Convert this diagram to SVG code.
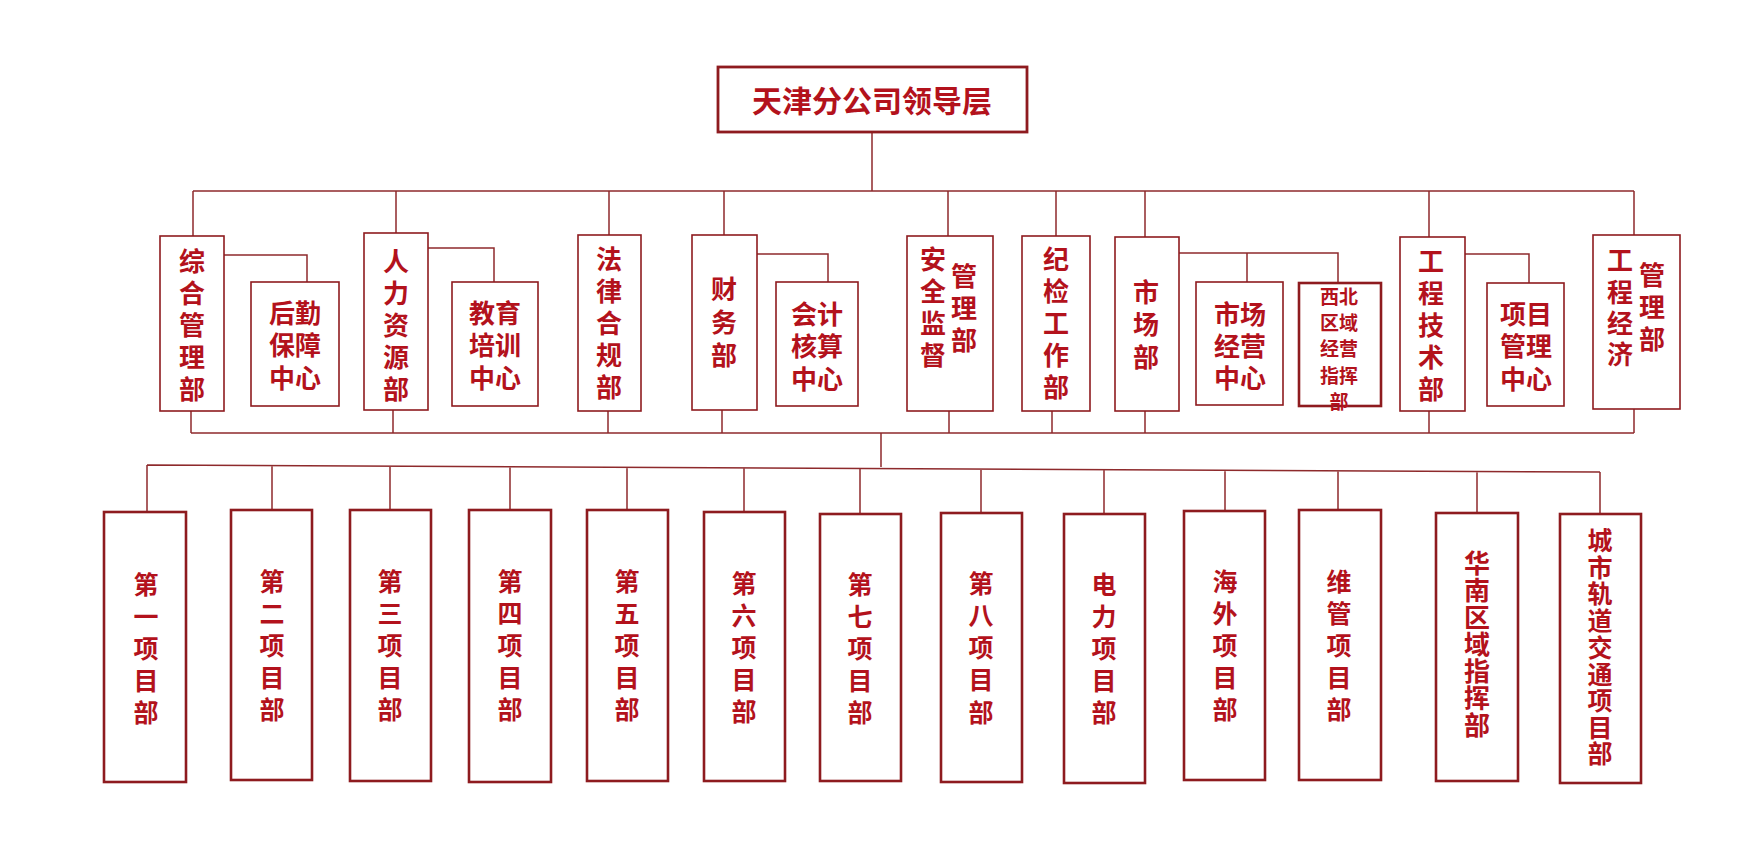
<svg xmlns="http://www.w3.org/2000/svg" width="1760" height="865" viewBox="0 0 1760 865">
<style>
.bg{fill:#ffffff}
.b2{fill:#ffffff;stroke:#8e1b1f;stroke-width:1.6}
.b3{fill:#ffffff;stroke:#8e1b1f;stroke-width:2.6}
.bt{fill:#ffffff;stroke:#8e1b1f;stroke-width:2.8}
.ln{fill:none;stroke:#8e2a2c;stroke-width:1.5}
text{font-family:"Noto Sans CJK SC","Noto Sans",sans-serif;font-weight:700;fill:#b3121c;text-anchor:middle;dominant-baseline:central}
.f26{font-size:26px}
.f25{font-size:25px}
.f19{font-size:19px}
.f30{font-size:30px}
</style>
<rect class="bg" x="0" y="0" width="1760" height="865"/>

<g id="connectors">
  <path class="ln" d="M872,132V191M193,191H1634M193,191V236M396,191V233M609,191V235M724,191V235M948,191V236M1056,191V236M1145,191V237M1429,191V237M1634,191V235"/>
  <path class="ln" d="M224,255H307V282M428,248H494V282M757,254H828V282M1179,253H1338V283M1247,253V282M1465,254H1529V283"/>
  <path class="ln" d="M191,433H1634M191,411V433M393,410V433M608,411V433M722,410V433M949,411V433M1052,411V433M1145,411V433M1429,411V433M1634,409V433M881,433V467"/>
  <path class="ln" d="M147,465L1600,472M147,465V512M272,465.6V510M390,466.2V510M510,466.7V510M627,467.3V510M744,467.9V512M860,468.4V514M981,469V513M1104,469.6V514M1225,470.2V511M1338,470.7V510M1477,471.4V513M1600,472V514"/>
</g>

<g id="leader">
  <rect class="bt" x="718" y="67" width="309" height="65"/>
  <text class="f30" x="872" y="99">天津分公司领导层</text>
</g>

<g id="n-zonghe">
  <rect class="b2" x="160" y="236" width="64" height="175"/>
  <text class="f26"><tspan x="192" y="259">综</tspan><tspan x="192" y="291">合</tspan><tspan x="192" y="323">管</tspan><tspan x="192" y="355">理</tspan><tspan x="192" y="387">部</tspan></text>
</g>
<g id="n-houqin">
  <rect class="b2" x="251" y="282" width="88" height="124"/>
  <text class="f26"><tspan x="295" y="311">后勤</tspan><tspan x="295" y="343">保障</tspan><tspan x="295" y="376">中心</tspan></text>
</g>
<g id="n-renli">
  <rect class="b2" x="364" y="233" width="64" height="177"/>
  <text class="f26"><tspan x="396" y="259">人</tspan><tspan x="396" y="291">力</tspan><tspan x="396" y="323">资</tspan><tspan x="396" y="355">源</tspan><tspan x="396" y="387">部</tspan></text>
</g>
<g id="n-jiaoyu">
  <rect class="b2" x="452" y="282" width="86" height="124"/>
  <text class="f26"><tspan x="495" y="311">教育</tspan><tspan x="495" y="343">培训</tspan><tspan x="495" y="376">中心</tspan></text>
</g>
<g id="n-falv">
  <rect class="b2" x="578" y="235" width="63" height="176"/>
  <text class="f26"><tspan x="609" y="257">法</tspan><tspan x="609" y="289">律</tspan><tspan x="609" y="321">合</tspan><tspan x="609" y="353">规</tspan><tspan x="609" y="385">部</tspan></text>
</g>
<g id="n-caiwu">
  <rect class="b2" x="692" y="235" width="65" height="175"/>
  <text class="f26"><tspan x="724" y="287">财</tspan><tspan x="724" y="320">务</tspan><tspan x="724" y="353">部</tspan></text>
</g>
<g id="n-kuaiji">
  <rect class="b2" x="776" y="282" width="82" height="124"/>
  <text class="f26"><tspan x="817" y="312">会计</tspan><tspan x="817" y="344">核算</tspan><tspan x="817" y="377">中心</tspan></text>
</g>
<g id="n-anquan">
  <rect class="b2" x="907" y="236" width="86" height="175"/>
  <text class="f26"><tspan x="933" y="257">安</tspan><tspan x="933" y="289">全</tspan><tspan x="933" y="321">监</tspan><tspan x="933" y="353">督</tspan></text>
  <text class="f26"><tspan x="964" y="274">管</tspan><tspan x="964" y="306">理</tspan><tspan x="964" y="338">部</tspan></text>
</g>
<g id="n-jijian">
  <rect class="b2" x="1022" y="236" width="68" height="175"/>
  <text class="f26"><tspan x="1056" y="257">纪</tspan><tspan x="1056" y="289">检</tspan><tspan x="1056" y="321">工</tspan><tspan x="1056" y="353">作</tspan><tspan x="1056" y="385">部</tspan></text>
</g>
<g id="n-shichang">
  <rect class="b2" x="1115" y="237" width="64" height="174"/>
  <text class="f26"><tspan x="1146" y="290">市</tspan><tspan x="1146" y="322">场</tspan><tspan x="1146" y="355">部</tspan></text>
</g>
<g id="n-scjy">
  <rect class="b2" x="1196" y="282" width="87" height="123"/>
  <text class="f26"><tspan x="1240" y="312">市场</tspan><tspan x="1240" y="344">经营</tspan><tspan x="1240" y="376">中心</tspan></text>
</g>
<g id="n-xibei">
  <rect class="b3" x="1299" y="283" width="82" height="123"/>
  <text class="f19"><tspan x="1339" y="295">西北</tspan><tspan x="1339" y="321">区域</tspan><tspan x="1339" y="347">经营</tspan><tspan x="1339" y="374">指挥</tspan><tspan x="1339" y="400">部</tspan></text>
</g>
<g id="n-gcjs">
  <rect class="b2" x="1400" y="237" width="65" height="174"/>
  <text class="f26"><tspan x="1431" y="259">工</tspan><tspan x="1431" y="291">程</tspan><tspan x="1431" y="323">技</tspan><tspan x="1431" y="355">术</tspan><tspan x="1431" y="387">部</tspan></text>
</g>
<g id="n-xmgl">
  <rect class="b2" x="1487" y="283" width="77" height="123"/>
  <text class="f26"><tspan x="1526" y="312">项目</tspan><tspan x="1526" y="344">管理</tspan><tspan x="1526" y="377">中心</tspan></text>
</g>
<g id="n-gcjj">
  <rect class="b2" x="1593" y="235" width="87" height="174"/>
  <text class="f26"><tspan x="1620" y="258">工</tspan><tspan x="1620" y="290">程</tspan><tspan x="1620" y="321">经</tspan><tspan x="1620" y="352">济</tspan></text>
  <text class="f26"><tspan x="1652" y="273">管</tspan><tspan x="1652" y="305">理</tspan><tspan x="1652" y="337">部</tspan></text>
</g>

<g id="p1">
  <rect class="b3" x="104" y="512" width="82" height="270"/>
  <text class="f25"><tspan x="146" y="583">第</tspan><tspan x="146" y="615">一</tspan><tspan x="146" y="647">项</tspan><tspan x="146" y="679">目</tspan><tspan x="146" y="711">部</tspan></text>
</g>
<g id="p2">
  <rect class="b3" x="231" y="510" width="81" height="270"/>
  <text class="f25"><tspan x="272" y="580">第</tspan><tspan x="272" y="612">二</tspan><tspan x="272" y="644">项</tspan><tspan x="272" y="676">目</tspan><tspan x="272" y="708">部</tspan></text>
</g>
<g id="p3">
  <rect class="b3" x="350" y="510" width="81" height="271"/>
  <text class="f25"><tspan x="390" y="580">第</tspan><tspan x="390" y="612">三</tspan><tspan x="390" y="644">项</tspan><tspan x="390" y="676">目</tspan><tspan x="390" y="708">部</tspan></text>
</g>
<g id="p4">
  <rect class="b3" x="469" y="510" width="82" height="272"/>
  <text class="f25"><tspan x="510" y="580">第</tspan><tspan x="510" y="612">四</tspan><tspan x="510" y="644">项</tspan><tspan x="510" y="676">目</tspan><tspan x="510" y="708">部</tspan></text>
</g>
<g id="p5">
  <rect class="b3" x="587" y="510" width="81" height="271"/>
  <text class="f25"><tspan x="627" y="580">第</tspan><tspan x="627" y="612">五</tspan><tspan x="627" y="644">项</tspan><tspan x="627" y="676">目</tspan><tspan x="627" y="708">部</tspan></text>
</g>
<g id="p6">
  <rect class="b3" x="704" y="512" width="81" height="269"/>
  <text class="f25"><tspan x="744" y="582">第</tspan><tspan x="744" y="614">六</tspan><tspan x="744" y="646">项</tspan><tspan x="744" y="678">目</tspan><tspan x="744" y="710">部</tspan></text>
</g>
<g id="p7">
  <rect class="b3" x="820" y="514" width="81" height="267"/>
  <text class="f25"><tspan x="860" y="583">第</tspan><tspan x="860" y="615">七</tspan><tspan x="860" y="647">项</tspan><tspan x="860" y="679">目</tspan><tspan x="860" y="711">部</tspan></text>
</g>
<g id="p8">
  <rect class="b3" x="941" y="513" width="81" height="269"/>
  <text class="f25"><tspan x="981" y="582">第</tspan><tspan x="981" y="614">八</tspan><tspan x="981" y="646">项</tspan><tspan x="981" y="678">目</tspan><tspan x="981" y="711">部</tspan></text>
</g>
<g id="p-dianli">
  <rect class="b3" x="1064" y="514" width="81" height="269"/>
  <text class="f25"><tspan x="1104" y="583">电</tspan><tspan x="1104" y="615">力</tspan><tspan x="1104" y="647">项</tspan><tspan x="1104" y="679">目</tspan><tspan x="1104" y="711">部</tspan></text>
</g>
<g id="p-haiwai">
  <rect class="b3" x="1184" y="511" width="81" height="269"/>
  <text class="f25"><tspan x="1225" y="580">海</tspan><tspan x="1225" y="612">外</tspan><tspan x="1225" y="644">项</tspan><tspan x="1225" y="676">目</tspan><tspan x="1225" y="708">部</tspan></text>
</g>
<g id="p-weiguan">
  <rect class="b3" x="1299" y="510" width="82" height="270"/>
  <text class="f25"><tspan x="1339" y="580">维</tspan><tspan x="1339" y="612">管</tspan><tspan x="1339" y="644">项</tspan><tspan x="1339" y="676">目</tspan><tspan x="1339" y="708">部</tspan></text>
</g>
<g id="p-huanan">
  <rect class="b3" x="1436" y="513" width="82" height="268"/>
  <text class="f26"><tspan x="1477" y="561">华</tspan><tspan x="1477" y="588">南</tspan><tspan x="1477" y="615">区</tspan><tspan x="1477" y="642">域</tspan><tspan x="1477" y="669">指</tspan><tspan x="1477" y="696">挥</tspan><tspan x="1477" y="723">部</tspan></text>
</g>
<g id="p-guidao">
  <rect class="b3" x="1560" y="514" width="81" height="269"/>
  <text class="f25"><tspan x="1600" y="539">城</tspan><tspan x="1600" y="566">市</tspan><tspan x="1600" y="592">轨</tspan><tspan x="1600" y="619">道</tspan><tspan x="1600" y="646">交</tspan><tspan x="1600" y="673">通</tspan><tspan x="1600" y="699">项</tspan><tspan x="1600" y="726">目</tspan><tspan x="1600" y="752">部</tspan></text>
</g>
</svg>
